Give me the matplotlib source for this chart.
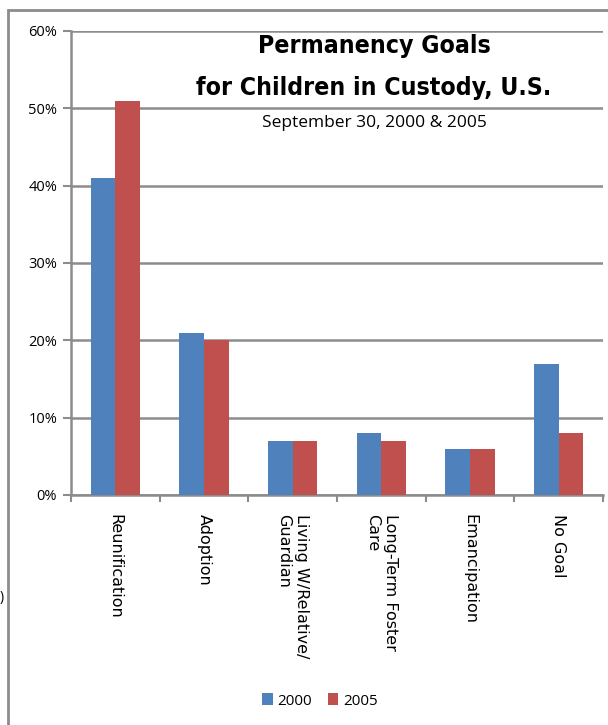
import matplotlib
matplotlib.use("Agg")
import matplotlib.pyplot as plt
import numpy as np
from matplotlib.patches import Rectangle
from matplotlib.ticker import FuncFormatter

categories = ["Reunification", "Adoption", "Living W/Relative/\nGuardian",
              "Long-Term Foster\nCare", "Emancipation", "No Goal"]
vals_2000 = [41, 21, 7, 8, 6, 17]
vals_2005 = [51, 20, 7, 7, 6, 8]
yticks = [0, 10, 20, 30, 40, 50, 60]

blue = "#4F81BD"
red = "#C0504D"
grey = "#8C8C8C"
plain = ["Open Sans", "DejaVu Sans"]

fig = plt.figure(figsize=(6.08, 7.25), dpi=100)
ax = fig.add_axes([71/608, 1-495/725, 532/608, 464/725])

x = np.arange(len(categories))
w = 0.28
ax.bar(x - w/2, vals_2000, w, color=blue, label="2000", zorder=3)
ax.bar(x + w/2, vals_2005, w, color=red, label="2005", zorder=3)

ax.set_xlim(-0.5, len(categories) - 0.5)
ax.set_ylim(0, 60)
ax.set_yticks(yticks)
ax.yaxis.set_major_formatter(FuncFormatter(lambda v, p: f"{v:.0f}%"))
ax.grid(axis="y", color=grey, lw=1.8, zorder=0)

ax.set_xticks(x)
ax.set_xticklabels(categories, rotation=270, va="top", ha="center",
                   multialignment="left", family="DejaVu Sans", fontsize=11.5)
ax.set_xticks(np.arange(-0.5, len(categories)), minor=True)
ax.tick_params(axis="x", which="major", length=0, pad=14)
ax.tick_params(axis="x", which="minor", length=5, width=1.5, color=grey)
ax.tick_params(axis="y", length=6, width=1.5, color=grey, pad=4)
for t in ax.get_yticklabels():
    t.set_family(plain)
    t.set_fontsize(10.5)

for s in ["top", "right"]:
    ax.spines[s].set_visible(False)
for s in ["left", "bottom"]:
    ax.spines[s].set_color(grey)
    ax.spines[s].set_linewidth(1.8)

# titles
fig.text(374/608, 1-46/725, "Permanency Goals", ha="center", va="center",
         fontsize=17.8, fontweight="bold", family="DejaVu Sans", fontstretch="condensed")
fig.text(374/608, 1-88/725, "for Children in Custody, U.S.", ha="center", va="center",
         fontsize=17.8, fontweight="bold", family="DejaVu Sans", fontstretch="condensed")
fig.text(374/608, 1-123/725, "September 30, 2000 & 2005", ha="center", va="center",
         fontsize=12.5, family=plain)

leg = fig.legend(loc="center", bbox_to_anchor=(320/608, 1-701/725), ncol=2,
                 frameon=False, handlelength=0.7, handleheight=0.8,
                 handletextpad=0.3, columnspacing=1.0, prop={"family": plain, "size": 11})

# outer border (cropped)
fig.add_artist(Rectangle((8/608, -0.1), 1.2, 1.1 - 10/725, transform=fig.transFigure,
                         fill=False, edgecolor=grey, lw=2))
fig.text(0.0, 1-598/725, ")", fontsize=10, ha="left", va="center", family=plain)

fig.savefig("out.png", dpi=100)
